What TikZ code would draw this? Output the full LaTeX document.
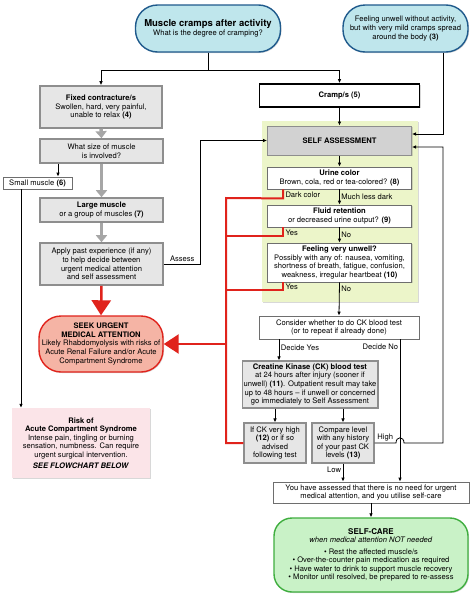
\documentclass[tikz,border=0pt]{standalone}
\usepackage{fontspec}
\setmainfont{TeX Gyre Heros}
\usetikzlibrary{arrows.meta,shadows}
\definecolor{pillfill}{HTML}{BFE6EC}
\definecolor{pilledge}{HTML}{1F5A8C}
\definecolor{boxfill}{HTML}{E6E6E6}
\definecolor{boxedge}{HTML}{8E8E8E}
\definecolor{selffill}{HTML}{D2D2D2}
\definecolor{lineedge}{HTML}{6E6E6E}
\definecolor{bggreen}{HTML}{ECF5C9}
\definecolor{seekfill}{HTML}{F5B4A5}
\definecolor{alertred}{HTML}{E0231C}
\definecolor{riskfill}{HTML}{FBE4E8}
\definecolor{carefill}{HTML}{C9F2C7}
\definecolor{careedge}{HTML}{3FAE3F}
\definecolor{arrgray}{HTML}{A6A6A6}
\tikzset{
  base/.style={align=center,inner sep=1.5pt,font=\fontsize{7.6}{8.6}\selectfont},
  shade/.style={drop shadow={opacity=.3,shadow xshift=1pt,shadow yshift=-1pt}},
  lbl/.style={font=\fontsize{7.6}{8.6}\selectfont,inner sep=1.5pt},
  arr/.style={-{Latex[length=4pt,width=3.6pt]},line width=.8pt},
  grayarr/.style={-{Triangle[length=7pt,width=11pt]},line width=3.5pt,draw=arrgray},
  redln/.style={line width=2pt,draw=alertred},
  redarr/.style={redln,-{Triangle[length=15pt,width=19pt]},line width=2.5pt}
}
\begin{document}
\begin{tikzpicture}[x=1pt,y=-1pt]
  \useasboundingbox (0,0) rectangle (474,600);
  \fill[white] (0,0) rectangle (474,600);

  \path[fill=bggreen,shade] (262,121) rectangle (418,302);

  \begin{scope}[every node/.style={base,draw=pilledge,fill=pillfill,line width=1.4pt,rounded corners=22pt,shade}]
    \node (top) at (208,28.5) [minimum width=145pt,minimum height=47pt]
      {{\fontsize{9.5}{11}\selectfont\textbf{Muscle cramps after activity}}\\What is the degree of cramping?};
    \node (unwell) at (405.5,28.5) [minimum width=125pt,minimum height=47pt]
      {Feeling unwell without activity,\\but with very mild cramps spread\\around the body \textbf{(3)}};
  \end{scope}

  \begin{scope}[every node/.style={base,draw=boxedge,fill=boxfill,line width=1.6pt,shade}]
    \node (fixed) at (101,107) [minimum width=122pt,minimum height=42pt]
      {\textbf{Fixed contracture/s}\\Swollen, hard, very painful,\\unable to relax \textbf{(4)}};
    \node (size) at (101.5,151) [minimum width=123pt,minimum height=24pt]
      {What size of muscle\\is involved?};
    \node (large) at (101.5,210) [minimum width=123pt,minimum height=24pt]
      {\textbf{Large muscle}\\or a group of muscles \textbf{(7)}};
    \node (apply) at (101.5,264) [minimum width=123pt,minimum height=42pt]
      {Apply past experience (if any)\\to help decide between\\urgent medical attention\\and self assessment};
  \end{scope}

  \begin{scope}[every node/.style={base,draw=boxedge,fill=boxfill,line width=1.2pt,shade}]
    \node (ck) at (310,384.5) [minimum width=132pt,minimum height=47pt]
      {\textbf{Creatine Kinase (CK) blood test}\\at 24 hours after injury (sooner if\\unwell) \textbf{(11)}. Outpatient result may take\\up to 48 hours -- if unwell or concerned\\go immediately to Self Assessment};
    \node (high) at (275,443) [minimum width=62pt,minimum height=40pt]
      {If CK very high\\\textbf{(12)} or if so\\advised\\following test};
    \node (compare) at (343,443) [minimum width=62pt,minimum height=40pt]
      {Compare level\\with any history\\of your past CK\\levels \textbf{(13)}};
    \node (self) at (339.5,140.5) [fill=selffill,line width=1pt,minimum width=144pt,minimum height=29pt]
      {\textbf{SELF ASSESSMENT}};
  \end{scope}

  \begin{scope}[every node/.style={base,draw=lineedge,fill=white,line width=.8pt,shade}]
    \node (cramp) at (339.5,95.5) [draw=black,line width=1.8pt,minimum width=160pt,minimum height=23pt]
      {\textbf{Cramp/s (5)}};
    \node (urine) at (339.5,178) [minimum width=144pt,minimum height=22pt]
      {\textbf{Urine color}\\Brown, cola, red or tea-colored? \textbf{(8)}};
    \node (fluid) at (339.5,216) [minimum width=144pt,minimum height=22pt]
      {\textbf{Fluid retention}\\or decreased urine output? \textbf{(9)}};
    \node (feel) at (339.5,262.5) [minimum width=144pt,minimum height=39pt]
      {\textbf{Feeling very unwell?}\\Possibly with any of: nausea, vomiting,\\shortness of breath, fatigue, confusion,\\weakness, irregular heartbeat \textbf{(10)}};
    \node (small) at (37.5,183) [minimum width=69pt,minimum height=12pt]
      {Small muscle \textbf{(6)}};
    \node (consider) at (339,327.5) [minimum width=160pt,minimum height=23pt]
      {Consider whether to do CK blood test\\(or to repeat if already done)};
    \node (assessed) at (371,492.5) [minimum width=196pt,minimum height=21pt]
      {You have assessed that there is no need for urgent\\medical attention, and you utilise self-care};
  \end{scope}

  \node (seek) at (101,344) [base,draw=alertred,fill=seekfill,line width=1.4pt,rounded corners=22pt,
      minimum width=124pt,minimum height=56pt,shade]
    {\textbf{SEEK URGENT}\\\textbf{MEDICAL ATTENTION}\\Likely Rhabdomyolysis with risks of\\Acute Renal Failure and/or Acute\\Compartment Syndrome};
  \node (risk) at (81,443) [base,fill=riskfill,minimum width=138pt,minimum height=70pt,shade]
    {\textbf{Risk of}\\\textbf{Acute Compartment Syndrome}\\Intense pain, tingling or burning\\sensation, numbness. Can require\\urgent surgical intervention.\\[2.5pt]\textbf{\textit{SEE FLOWCHART BELOW}}};
  \node (selfcare) at (371,555) [base,draw=careedge,fill=carefill,line width=1.4pt,rounded corners=18pt,
      minimum width=194pt,minimum height=74pt,shade]
    {{\fontsize{8}{9}\selectfont\textbf{SELF-CARE}}\\\textit{when medical attention NOT needed}\\[2.5pt]• Rest the affected muscle/s\\• Over-the-counter pain medication as required\\• Have water to drink to support muscle recovery\\• Monitor until resolved, be prepared to re-assess};

  \draw[arr] (top.south) -- ++(0,17.5) -| (fixed.north);
  \draw[arr] (top.south) -- ++(0,17.5) -| (cramp.north);
  \draw[arr] ([xshift=37.5pt]unwell.south) |- ([yshift=6.5pt]self.east);
  \draw[arr] (cramp.south) -- (self.north);
  \draw[arr] (self.south) -- (urine.north);
  \draw[arr] (urine.south) -- node[lbl,anchor=west]{Much less dark} (fluid.north);
  \draw[arr] (fluid.south) -- node[lbl,anchor=west]{No} (feel.north);
  \draw[arr] (feel.south) -- node[lbl,anchor=west,pos=.2]{No} (consider.north);

  \draw[grayarr] (fixed.south) -- (size.north);
  \draw[grayarr] (size.south) -- (large.north);
  \draw[grayarr] (large.south) -- (apply.north);
  \coordinate (sm) at ([xshift=-43.5pt]size.south);
  \draw[arr] (sm) -- (sm |- small.north);
  \coordinate (rk) at ([xshift=-16.5pt]small.south);
  \draw[arr] (rk) -- (rk |- risk.north);
  \draw[arr] (apply.east) -- node[lbl,above]{Assess} ++(37,0) |- (self.west);

  \coordinate (bus) at (226,198);
  \draw[redln] ([xshift=-56.5pt]urine.south) -- ++(0,9) node[lbl,anchor=west,pos=.6]{Dark color}
    -- (bus) -- (bus |- high.west) -- (high.west);
  \draw[redln] ([xshift=-56.5pt]fluid.south) -- ++(0,9) node[lbl,anchor=west,pos=.6]{Yes} -| (bus);
  \draw[redln] ([xshift=-56.5pt]feel.south) -- ++(0,8) node[lbl,anchor=west,pos=.6]{Yes} -| (bus);
  \draw[redarr] (bus |- seek.east) -- (seek.east);
  \draw[redarr] (apply.south) -- (seek.north);

  \coordinate (yes) at ([xshift=-60pt]consider.south);
  \draw[arr] (yes) -- node[lbl,anchor=west,pos=.4]{Decide Yes} (yes |- ck.north);
  \coordinate (no) at ([xshift=61pt]consider.south);
  \draw[arr] (no) -- node[lbl,anchor=east,pos=.05]{Decide No} (no |- assessed.north);
  \draw[arr] (ck.south -| high.north) -- (high.north);
  \draw[arr] (ck.south -| compare.north) -- (compare.north);
  \draw[arr] (compare.east) -- node[lbl,above]{High} (396,443)
    .. controls (396,436) and (404,436) .. (404,443) -- (443,443) |- ([yshift=-6.5pt]self.east);
  \draw[arr] (compare.south) -- node[lbl,anchor=east,pos=.35]{Low} (compare.south |- assessed.north);
  \draw[arr] (assessed.south) -- (selfcare.north);

\end{tikzpicture}
\end{document}
